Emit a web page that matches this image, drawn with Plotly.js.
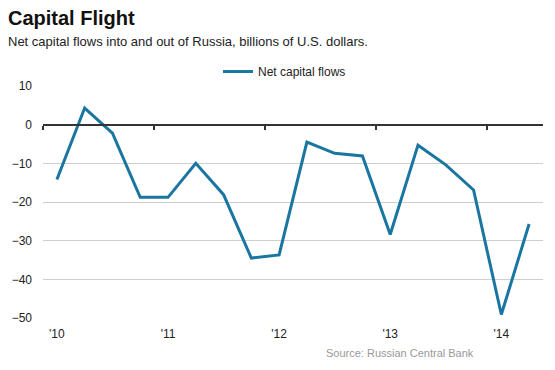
<!DOCTYPE html>
<html>
<head>
<meta charset="utf-8">
<script src="https://cdn.plot.ly/plotly-3.0.1.min.js"></script>
<style>html,body{margin:0;padding:0;background:#fff;}#chart{width:555px;height:370px;}</style>
</head>
<body>
<div id="chart"></div>
<script>
var quarters = ['2010 Q1','2010 Q2','2010 Q3','2010 Q4','2011 Q1','2011 Q2','2011 Q3','2011 Q4',
                '2012 Q1','2012 Q2','2012 Q3','2012 Q4','2013 Q1','2013 Q2','2013 Q3','2013 Q4',
                '2014 Q1','2014 Q2'];
var netFlows = [-14.2, 4.3, -2.2, -18.8, -18.8, -10.0, -18.1, -34.5, -33.7, -4.5, -7.4, -8.1,
                -28.4, -5.3, -10.4, -16.9, -49.1, -25.7];
var yearLabels = ["'10", "'11", "'12", "'13", "'14"];
var yTicks = [10, 0, -10, -20, -30, -40, -50];

var xIdx = quarters.map(function(q, i){ return i; });
var labelIdx = [], boundaryIdx = [];
quarters.forEach(function(q, i){ if (q.slice(-2) === 'Q1') { labelIdx.push(i); boundaryIdx.push(i - 0.5); } });
var yRange = [-50, 10];
var xRange = [-0.5, quarters.length - 0.5];

var font = 'Liberation Sans, Arial, sans-serif';
var data = [
  {x: xIdx, y: netFlows, type: 'scatter', mode: 'lines', name: 'Net capital flows',
   line: {color: '#1a76a0', width: 3}, hoverinfo: 'skip'},
  {x: xIdx, y: netFlows, xaxis: 'x2', type: 'scatter', mode: 'lines', showlegend: false,
   line: {color: 'rgba(0,0,0,0)', width: 0}, hoverinfo: 'skip'}
];
var layout = {
  width: 555, height: 370,
  margin: {l: 43, r: 12, t: 85.5, b: 52},
  paper_bgcolor: '#fff', plot_bgcolor: '#fff',
  font: {family: font, color: '#222', size: 12},
  title: {text: '<b>Capital Flight</b>', x: 8/555, xanchor: 'left', xref: 'container',
          y: 1 - 18/370, yanchor: 'middle', font: {family: font, size: 20, color: '#111'}},
  showlegend: true,
  legend: {orientation: 'h', x: 0.35, xanchor: 'left', y: (318-71)/232.5, yanchor: 'middle',
           font: {family: font, size: 12, color: '#222'}, bgcolor: 'rgba(0,0,0,0)', itemwidth: 30},
  xaxis: {range: xRange, showgrid: false, zeroline: false, showline: false,
          tickmode: 'array', tickvals: labelIdx, ticktext: yearLabels, ticks: '',
          ticklabelstandoff: 7, tickfont: {size: 12, color: '#222'}, fixedrange: true},
  xaxis2: {range: xRange, overlaying: 'x', anchor: 'free', side: 'bottom',
           position: (0 - yRange[0]) / (yRange[1] - yRange[0]),
           showgrid: false, zeroline: false, showline: true, linecolor: '#333', linewidth: 2.5,
           tickmode: 'array', tickvals: boundaryIdx, ticks: 'outside', ticklen: 4, tickwidth: 2,
           tickcolor: '#333', showticklabels: false},
  yaxis: {range: yRange, tickmode: 'array', tickvals: yTicks, showgrid: true, gridcolor: '#cfcfcf',
          gridwidth: 1, zeroline: false, showline: false, ticks: '', ticklabelstandoff: 10,
          tickfont: {size: 12, color: '#222'}, fixedrange: true},
  annotations: [
    {text: 'Net capital flows into and out of Russia, billions of U.S. dollars.', xref: 'paper', yref: 'paper',
     x: (6-43)/500, xanchor: 'left', y: (318-41)/232.5, yanchor: 'middle', showarrow: false,
     font: {family: font, size: 13, color: '#222'}},
    {text: 'Source: Russian Central Bank', xref: 'paper', yref: 'paper',
     x: (400-43)/500, xanchor: 'center', y: (318-353)/232.5, yanchor: 'middle', showarrow: false,
     font: {family: font, size: 11, color: '#999'}}
  ]
};
Plotly.newPlot('chart', data, layout, {displayModeBar: false, staticPlot: true});
</script>
</body>
</html>
